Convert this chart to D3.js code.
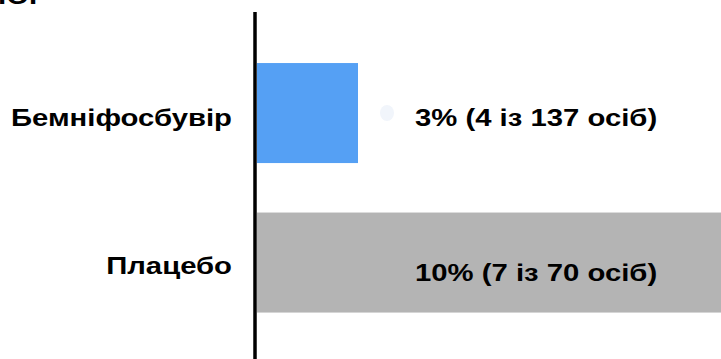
<!DOCTYPE html>
<html>
<head>
<meta charset="UTF-8" />
<style>
    body { margin: 0; padding: 0; background: #fff; overflow: hidden; }
    text { font-family: "Liberation Sans", Arial, sans-serif; font-weight: bold; fill: #000; }
</style>
</head>
<body>
<svg width="721" height="359"></svg>
<script src="https://d3js.org/d3.v7.min.js"></script>
<script>
    // data
    const categories = ["Бемніфосбувір", "Плацебо"];
    const percents = [3, 10];
    const labels = ["3% (4 із 137 осіб)", "10% (7 із 70 осіб)"];
    const colors = ["#55a0f4", "#b4b4b4"];

    const svg = d3.select("svg");
    const axisX = 257;
    const stretch = 1.22; // source image is a bit wider than tall

    // bars in the source are not drawn to a linear scale (10% runs off the edge)
    const x = d3.scaleLinear().domain([0, 3, 10]).range([0, 101, 480]);
    const y = d3.scaleBand().domain(categories).range([38.3, 337.3])
        .paddingInner(0.331).paddingOuter(0.1655);

    // cut-off heading at the very top
    svg.append("text")
        .attr("transform", "translate(-2,4) scale(" + stretch + ",1)")
        .attr("font-size", 24)
        .text("ІОІ");

    svg.selectAll(".bar")
        .data(categories)
        .enter().append("rect")
        .attr("class", "bar")
        .attr("x", axisX)
        .attr("y", d => y(d))
        .attr("width", (d, i) => x(percents[i]))
        .attr("height", y.bandwidth())
        .attr("fill", (d, i) => colors[i]);

    // faint smudge next to the first label
    svg.append("ellipse")
        .attr("cx", 387).attr("cy", 113)
        .attr("rx", 7).attr("ry", 8)
        .attr("fill", "#f1f5fb");

    // vertical axis line
    svg.append("line")
        .attr("x1", axisX - 2).attr("x2", axisX - 2)
        .attr("y1", 12).attr("y2", 359)
        .attr("stroke", "#000")
        .attr("stroke-width", 3.5);

    const catOff = [12.7, 11];
    svg.selectAll(".cat")
        .data(categories)
        .enter().append("text")
        .attr("class", "cat")
        .attr("transform", (d, i) => "translate(232," + (y(d) + y.bandwidth() / 2 + catOff[i]) + ") scale(" + stretch + ",1)")
        .attr("text-anchor", "end")
        .attr("font-size", 24)
        .text(d => d);

    const valOff = [13, 18];
    svg.selectAll(".val")
        .data(labels)
        .enter().append("text")
        .attr("class", "val")
        .attr("transform", (d, i) => "translate(415," + (y(categories[i]) + y.bandwidth() / 2 + valOff[i]) + ") scale(" + stretch + ",1)")
        .attr("font-size", 24)
        .text(d => d);
</script>
</body>
</html>
